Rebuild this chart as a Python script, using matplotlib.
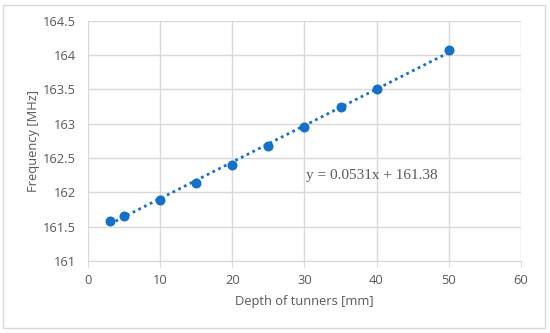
import matplotlib
matplotlib.use("Agg")
import matplotlib.pyplot as plt
from matplotlib.patches import Rectangle

depth = [3, 5, 10, 15, 20, 25, 30, 35, 40, 50]
freq = [161.58, 161.66, 161.89, 162.14, 162.40, 162.68, 162.955, 163.24, 163.51, 164.07]
slope, intercept = 0.0531, 161.38
x_ticks = [0, 10, 20, 30, 40, 50, 60]
y_ticks = [161, 161.5, 162, 162.5, 163, 163.5, 164, 164.5]
y_ticklabels = ["161", "161.5", "162", "162.5", "163", "163.5", "164", "164.5"]

plt.rcParams['font.family'] = ['Open Sans', 'DejaVu Sans']
fig = plt.figure(figsize=(5.5, 3.33), dpi=100)
fig.patches.append(Rectangle((3/550, 5/333), 542/550, 323/333, transform=fig.transFigure,
                             fill=False, edgecolor='#d9d9d9', lw=1))
ax = fig.add_axes([0.1605, 0.2162, 0.7862, 0.7216])
blue = '#1570c8'
tx = [min(depth), max(depth)]
ty = [slope * v + intercept for v in tx]
ax.plot(tx, ty, color=blue, lw=2, linestyle=(0, (1, 1.3)), zorder=3)
ax.plot(depth, freq, 'o', color=blue, markersize=6.2, zorder=4)

ax.set_xlim(0, 60)
ax.set_ylim(161, 164.5)
ax.set_xticks(x_ticks)
ax.set_yticks(y_ticks)
ax.set_yticklabels(y_ticklabels)
ax.grid(True, color='#d9d9d9', lw=1)
ax.set_axisbelow(True)
for s in ['top', 'right', 'left']:
    ax.spines[s].set_visible(False)
ax.spines['bottom'].set_color('#d9d9d9')
fs = 9.3
ax.tick_params(axis='y', length=0, pad=9, labelsize=fs, labelcolor='#595959')
ax.tick_params(axis='x', length=4, color='#d9d9d9', pad=5, labelsize=fs, labelcolor='#595959')
ax.set_xlabel('Depth of tunners [mm]', fontsize=fs, color='#595959', labelpad=6)
ax.set_ylabel('Frequency [MHz]', fontsize=fs, color='#595959', labelpad=2)
ax.text(39.3, 162.25, 'y = 0.0531x + 161.38', family='Liberation Serif', fontsize=11,
        color='#595959', ha='center', va='center')
fig.savefig('out.png', dpi=100)
